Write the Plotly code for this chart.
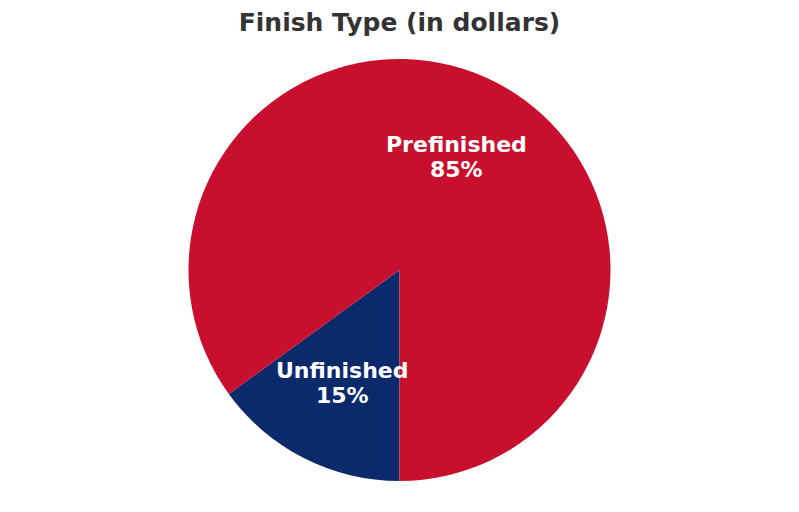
import math
import plotly.graph_objects as go

# Finish type share (in dollars)
labels = ["Unfinished", "Prefinished"]
values = [15, 85]
colors = ["#0B2A6B", "#C8102E"]

FONT = "DejaVu Sans"
W, H = 799, 512
# page body adds 8px offset, so the margins are shifted to compensate
MARGIN = dict(l=0, r=16, t=51, b=39)

fig = go.Figure()
fig.add_trace(go.Pie(
    labels=labels,
    values=values,
    marker=dict(colors=colors, line=dict(width=0)),
    sort=False,
    direction="clockwise",
    rotation=180,
    textinfo="none",
    hoverinfo="label+percent",
    showlegend=False,
))

# label positions from the slice mid-angles, 0.6 of the radius out
plot_w = W - MARGIN["l"] - MARGIN["r"]
plot_h = H - MARGIN["t"] - MARGIN["b"]
radius = min(plot_w, plot_h) / 2
total = sum(values)
start = 180.0
annotations = []
for lab, val in zip(labels, values):
    span = val / total * 360
    mid = math.radians(start + span / 2)
    start += span
    dx = 0.6 * radius * math.sin(mid)
    dy = 0.6 * radius * math.cos(mid)
    pct = "%d%%" % round(val / total * 100)
    for txt, shift in ((lab, 12.5), (pct, -12.5)):
        annotations.append(dict(
            x=0.5 + dx / plot_w, y=0.5 + dy / plot_h,
            xref="paper", yref="paper", showarrow=False,
            xanchor="center", yanchor="middle", yshift=shift,
            text="<b>%s</b>" % txt,
            font=dict(family=FONT, size=22, color="white"),
        ))

fig.update_layout(
    width=W, height=H,
    margin=MARGIN,
    paper_bgcolor="white",
    plot_bgcolor="white",
    title=dict(text="<b>Finish Type (in dollars)</b>", x=0.5 - 8 / W, y=1 - 14 / H,
               xanchor="center", yanchor="middle",
               font=dict(family=FONT, size=25, color="#333333")),
    annotations=annotations,
)

fig.write_html("out.html")
